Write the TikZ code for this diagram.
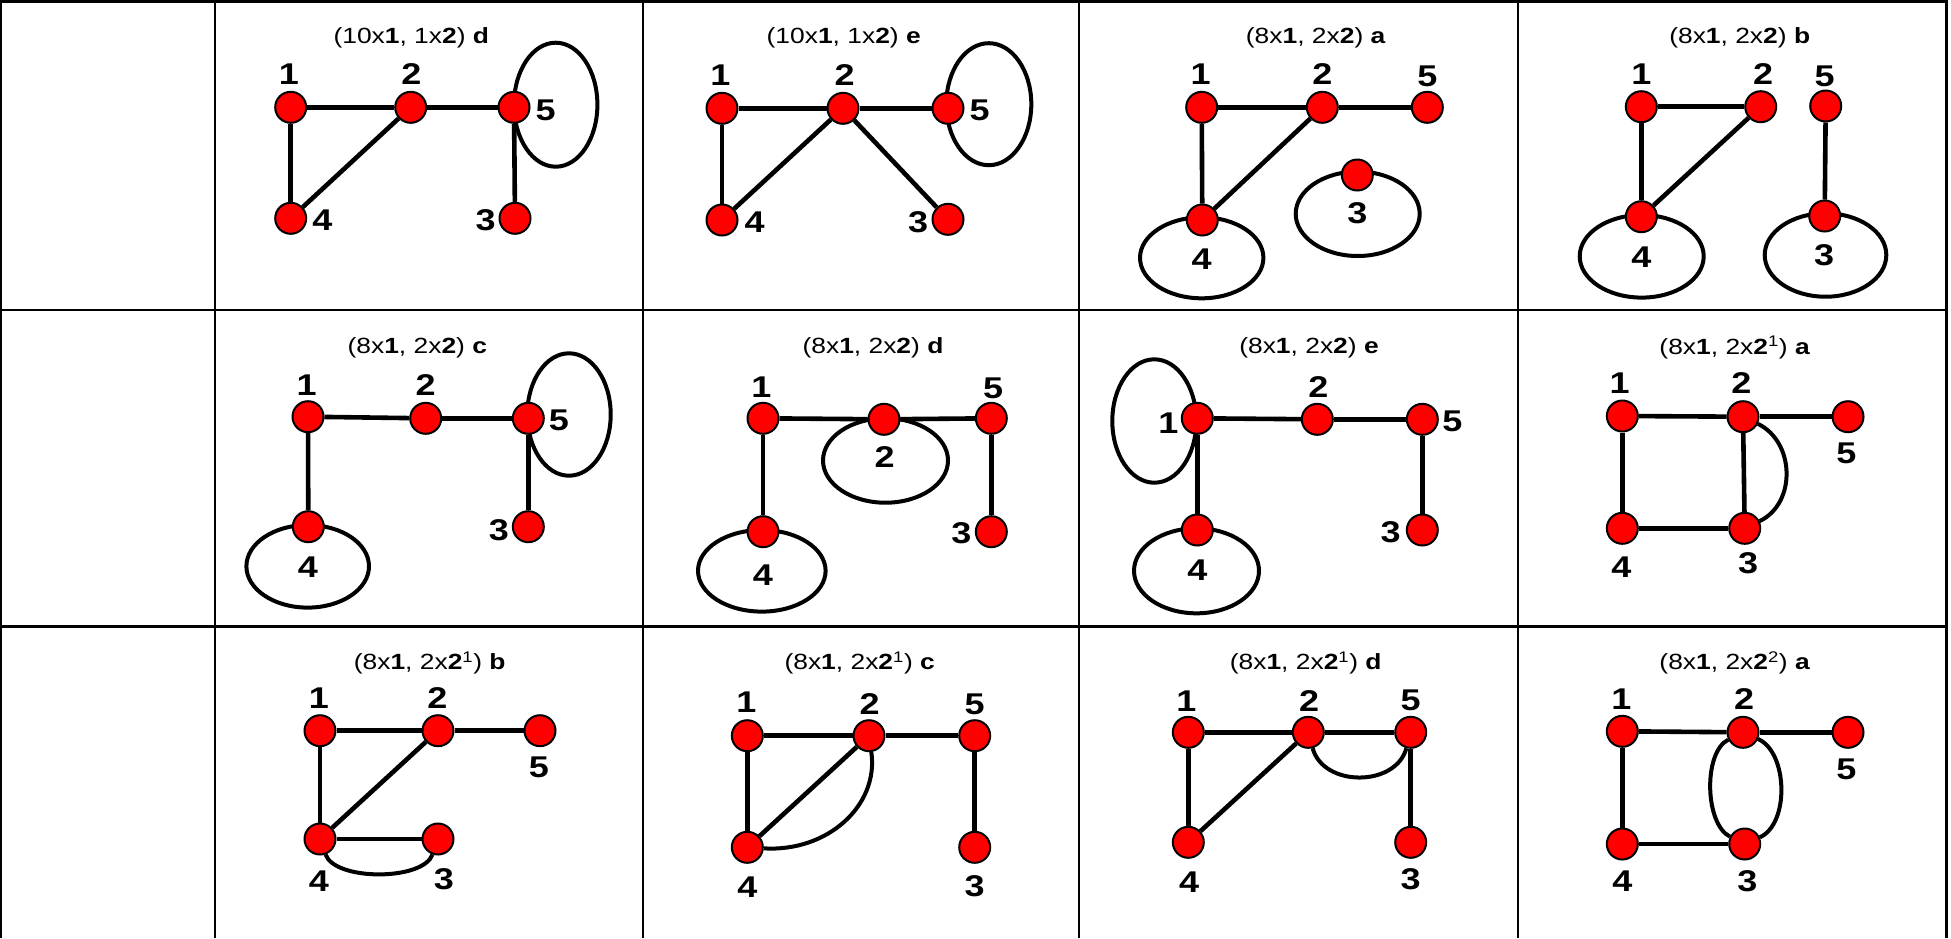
\documentclass[tikz,border=0pt]{standalone}
\usepackage{fontspec}
\setmainfont{Liberation Sans}
\usetikzlibrary{calc}
\pgfdeclarelayer{bg}
\pgfsetlayers{bg,main}
\newcommand{\hsq}[1]{\scalebox{1.2}[1]{#1}}
\tikzset{
  vtx/.style={circle, fill=red, draw=black, line width=2pt, minimum size=31pt, inner sep=0pt},
  lbl/.style={font=\fontsize{30}{30}\selectfont\bfseries, inner sep=0pt},
  ttl/.style={font=\fontsize{22}{22}\selectfont, inner sep=0pt},
  eline/.style={line width=4.6pt},
  loopst/.style={line width=4pt},
  gridln/.style={line width=2.5pt}
}
\begin{document}
\begin{tikzpicture}[x=1pt,y=-1pt]
\useasboundingbox (0,0) rectangle (1951,938);
% table grid
\foreach \yy in {1.5,310,626.5} \draw[gridln] (0,\yy) -- (1948,\yy);
\foreach \xx in {1.2,215,643,1079,1518,1946.5} \draw[gridln] (\xx,0) -- (\xx,938);

% ---------- cell 1 ----------
\node[ttl] (t1) at (411.3,38) {\hsq{(10x\textbf{1}, 1x\textbf{2}) \textbf{d}}};
\node[vtx] (c1v1) at (290.7,107.3) {};
\node[vtx] (c1v2) at (410.7,107.3) {};
\node[vtx] (c1v5) at (514,107.3) {};
\node[vtx] (c1v4) at (290.7,218.3) {};
\node[vtx] (c1v3) at (515,218.3) {};
\node[lbl] (c1l1) at (289,74) {\hsq{1}};
\node[lbl] (c1l2) at (411.3,74) {\hsq{2}};
\node[lbl] (c1l5) at (545.7,110) {\hsq{5}};
\node[lbl] (c1l4) at (322.3,220) {\hsq{4}};
\node[lbl] (c1l3) at (485.7,220) {\hsq{3}};
\begin{pgfonlayer}{bg}
\draw[eline] (c1v1) -- (c1v2);
\draw[eline] (c1v2) -- (c1v5);
\draw[eline] (c1v1) -- (c1v4);
\draw[eline] (c1v2) -- (c1v4);
\draw[eline] (c1v5) -- (c1v3);
\draw[loopst] ($(c1v5)+(41.7,-2.6)$) ellipse [x radius=41.7pt, y radius=62pt];
\end{pgfonlayer}

% ---------- cell 2 ----------
\node[ttl] (t2) at (843.7,38) {\hsq{(10x\textbf{1}, 1x\textbf{2}) \textbf{e}}};
\node[vtx] (c2v1) at (722,108.3) {};
\node[vtx] (c2v2) at (843,108.3) {};
\node[vtx] (c2v5) at (948,108.3) {};
\node[vtx] (c2v4) at (722,220) {};
\node[vtx] (c2v3) at (948,219.3) {};
\node[lbl] (c2l1) at (720.3,75) {\hsq{1}};
\node[lbl] (c2l2) at (844.7,75) {\hsq{2}};
\node[lbl] (c2l5) at (979.7,110) {\hsq{5}};
\node[lbl] (c2l4) at (754.7,221.7) {\hsq{4}};
\node[lbl] (c2l3) at (918,221.7) {\hsq{3}};
\begin{pgfonlayer}{bg}
\draw[eline] (c2v1) -- (c2v2);
\draw[eline] (c2v2) -- (c2v5);
\draw[eline] (c2v1) -- (c2v4);
\draw[eline] (c2v2) -- (c2v4);
\draw[eline] (c2v2) -- (c2v3);
\draw[loopst] ($(c2v5)+(40.8,-4.1)$) ellipse [x radius=42.5pt, y radius=61pt];
\end{pgfonlayer}

% ---------- cell 3 ----------
\node[ttl] (t3) at (1315.7,38) {\hsq{(8x\textbf{1}, 2x\textbf{2}) \textbf{a}}};
\node[vtx] (c3v1) at (1201.7,107.3) {};
\node[vtx] (c3v2) at (1322.3,107.3) {};
\node[vtx] (c3v5) at (1427.3,107.3) {};
\node[vtx] (c3v4) at (1202.3,220) {};
\node[vtx] (c3v3) at (1357.3,175) {};
\node[lbl] (c3l1) at (1200.7,74) {\hsq{1}};
\node[lbl] (c3l2) at (1322.3,74) {\hsq{2}};
\node[lbl] (c3l5) at (1427.3,76.7) {\hsq{5}};
\node[lbl] (c3l4) at (1201.7,259.3) {\hsq{4}};
\node[lbl] (c3l3) at (1357.3,213.3) {\hsq{3}};
\begin{pgfonlayer}{bg}
\draw[eline] (c3v1) -- (c3v2);
\draw[eline] (c3v2) -- (c3v5);
\draw[eline] (c3v1) -- (c3v4);
\draw[eline] (c3v2) -- (c3v4);
\draw[loopst] ($(c3v4)+(-0.6,37.8)$) ellipse [x radius=61.7pt, y radius=40.5pt];
\draw[loopst] ($(c3v3)+(0.4,38.8)$) ellipse [x radius=62pt, y radius=42.2pt];
\end{pgfonlayer}

% ---------- cell 4 ----------
\node[ttl] (t4) at (1739.7,38) {\hsq{(8x\textbf{1}, 2x\textbf{2}) \textbf{b}}};
\node[vtx] (c4v1) at (1641.3,106.7) {};
\node[vtx] (c4v2) at (1760.7,106.7) {};
\node[vtx] (c4v5) at (1825.7,106) {};
\node[vtx] (c4v4) at (1641.3,216.7) {};
\node[vtx] (c4v3) at (1824.7,216) {};
\node[lbl] (c4l1) at (1641.3,74) {\hsq{1}};
\node[lbl] (c4l2) at (1763,74) {\hsq{2}};
\node[lbl] (c4l5) at (1824.7,76) {\hsq{5}};
\node[lbl] (c4l4) at (1641.3,256.7) {\hsq{4}};
\node[lbl] (c4l3) at (1824,255) {\hsq{3}};
\begin{pgfonlayer}{bg}
\draw[eline] (c4v1) -- (c4v2);
\draw[eline] (c4v1) -- (c4v4);
\draw[eline] (c4v2) -- (c4v4);
\draw[eline] (c4v5) -- (c4v3);
\draw[loopst] ($(c4v4)+(0.4,39.6)$) ellipse [x radius=62pt, y radius=41.3pt];
\draw[loopst] ($(c4v3)+(0.8,39)$) ellipse [x radius=60.8pt, y radius=41.7pt];
\end{pgfonlayer}

% ---------- cell 5 ----------
\node[ttl] (t5) at (417.3,347.5) {\hsq{(8x\textbf{1}, 2x\textbf{2}) \textbf{c}}};
\node[vtx] (c5v1) at (308,416.7) {};
\node[vtx] (c5v2) at (425.7,418.3) {};
\node[vtx] (c5v5) at (528.3,418.3) {};
\node[vtx] (c5v4) at (308.3,526.7) {};
\node[vtx] (c5v3) at (528.3,526.7) {};
\node[lbl] (c5l1) at (306.7,385) {\hsq{1}};
\node[lbl] (c5l2) at (425.7,385) {\hsq{2}};
\node[lbl] (c5l5) at (559,420) {\hsq{5}};
\node[lbl] (c5l4) at (308,566.7) {\hsq{4}};
\node[lbl] (c5l3) at (499,530) {\hsq{3}};
\begin{pgfonlayer}{bg}
\draw[eline] (c5v1) -- (c5v2);
\draw[eline] (c5v2) -- (c5v5);
\draw[eline] (c5v1) -- (c5v4);
\draw[eline] (c5v5) -- (c5v3);
\draw[loopst] ($(c5v5)+(40.7,-3.8)$) ellipse [x radius=41.7pt, y radius=61.2pt];
\draw[loopst] ($(c5v4)+(-0.6,39.6)$) ellipse [x radius=61.3pt, y radius=41.3pt];
\end{pgfonlayer}

% ---------- cell 6 ----------
\node[ttl] (t6) at (873,347.5) {\hsq{(8x\textbf{1}, 2x\textbf{2}) \textbf{d}}};
\node[vtx] (c6v1) at (763,418.3) {};
\node[vtx] (c6v2) at (884,419.3) {};
\node[vtx] (c6v5) at (991.3,418.3) {};
\node[vtx] (c6v4) at (763,531.7) {};
\node[vtx] (c6v3) at (991.3,531.7) {};
\node[lbl] (c6l1) at (761.3,386.7) {\hsq{1}};
\node[lbl] (c6l2) at (884.7,456.7) {\hsq{2}};
\node[lbl] (c6l5) at (993,388.3) {\hsq{5}};
\node[lbl] (c6l4) at (763,575) {\hsq{4}};
\node[lbl] (c6l3) at (961.3,533.3) {\hsq{3}};
\begin{pgfonlayer}{bg}
\draw[eline] (c6v1) -- (c6v2);
\draw[eline] (c6v2) -- (c6v5);
\draw[eline] (c6v1) -- (c6v4);
\draw[eline] (c6v5) -- (c6v3);
\draw[loopst] ($(c6v2)+(1.5,41.2)$) ellipse [x radius=62.5pt, y radius=42.2pt];
\draw[loopst] ($(c6v4)+(-1.2,39.1)$) ellipse [x radius=63.8pt, y radius=40.8pt];
\end{pgfonlayer}

% ---------- cell 7 ----------
\node[ttl] (t7) at (1309,347.5) {\hsq{(8x\textbf{1}, 2x\textbf{2}) \textbf{e}}};
\node[vtx] (c7v1) at (1197.3,418.3) {};
\node[vtx] (c7v2) at (1317.3,419.3) {};
\node[vtx] (c7v5) at (1422.3,419.3) {};
\node[vtx] (c7v4) at (1197.3,530) {};
\node[vtx] (c7v3) at (1422.3,530) {};
\node[lbl] (c7l1) at (1168.3,423.3) {\hsq{1}};
\node[lbl] (c7l2) at (1318.3,386.7) {\hsq{2}};
\node[lbl] (c7l5) at (1452.3,421.7) {\hsq{5}};
\node[lbl] (c7l4) at (1197.3,570) {\hsq{4}};
\node[lbl] (c7l3) at (1390.7,531.7) {\hsq{3}};
\begin{pgfonlayer}{bg}
\draw[eline] (c7v1) -- (c7v2);
\draw[eline] (c7v2) -- (c7v5);
\draw[eline] (c7v1) -- (c7v4);
\draw[eline] (c7v5) -- (c7v3);
\draw[loopst] ($(c7v1)+(-43,2.7)$) ellipse [x radius=42pt, y radius=61.7pt];
\draw[loopst] ($(c7v4)+(-0.8,40.8)$) ellipse [x radius=62.5pt, y radius=42.5pt];
\end{pgfonlayer}

% ---------- cell 8 ----------
\node[ttl] (t8) at (1734.7,347.5) {\hsq{(8x\textbf{1}, 2x\textbf{2}\textsuperscript{1}) \textbf{a}}};
\node[vtx] (c8v1) at (1622.3,416) {};
\node[vtx] (c8v2) at (1743,416.7) {};
\node[vtx] (c8v5) at (1848,416.7) {};
\node[vtx] (c8v4) at (1622.3,528.3) {};
\node[vtx] (c8v3) at (1744.7,528.3) {};
\node[lbl] (c8l1) at (1619.7,383.3) {\hsq{1}};
\node[lbl] (c8l2) at (1741.3,383.3) {\hsq{2}};
\node[lbl] (c8l5) at (1846.3,453.3) {\hsq{5}};
\node[lbl] (c8l4) at (1621.3,566.7) {\hsq{4}};
\node[lbl] (c8l3) at (1748,563.3) {\hsq{3}};
\begin{pgfonlayer}{bg}
\draw[eline] (c8v1) -- (c8v2);
\draw[eline] (c8v2) -- (c8v5);
\draw[eline] (c8v1) -- (c8v4);
\draw[eline] (c8v4) -- (c8v3);
\draw[eline] (c8v2) -- (c8v3);
\draw[loopst] (c8v2) .. controls +(52,25) and +(52,-25) .. (c8v3);
\end{pgfonlayer}

% ---------- cell 9 ----------
\node[ttl] (t9) at (429.7,663) {\hsq{(8x\textbf{1}, 2x\textbf{2}\textsuperscript{1}) \textbf{b}}};
\node[vtx] (c9v1) at (320,730.7) {};
\node[vtx] (c9v2) at (438,730.7) {};
\node[vtx] (c9v5) at (540,730.7) {};
\node[vtx] (c9v4) at (320,839) {};
\node[vtx] (c9v3) at (438,839) {};
\node[lbl] (c9l1) at (319,698) {\hsq{1}};
\node[lbl] (c9l2) at (437.3,698) {\hsq{2}};
\node[lbl] (c9l5) at (539,767.3) {\hsq{5}};
\node[lbl] (c9l4) at (319,880.7) {\hsq{4}};
\node[lbl] (c9l3) at (444,879) {\hsq{3}};
\begin{pgfonlayer}{bg}
\draw[eline] (c9v1) -- (c9v2);
\draw[eline] (c9v2) -- (c9v5);
\draw[eline] (c9v1) -- (c9v4);
\draw[eline] (c9v2) -- (c9v4);
\draw[eline] (c9v4) -- (c9v3);
\draw[loopst] (c9v4) .. controls +(15,42) and +(-15,42) .. (c9v3);
\end{pgfonlayer}

% ---------- cell 10 ----------
\node[ttl] (t10) at (859.7,663) {\hsq{(8x\textbf{1}, 2x\textbf{2}\textsuperscript{1}) \textbf{c}}};
\node[vtx] (c10v1) at (747.3,735.7) {};
\node[vtx] (c10v2) at (869,735.7) {};
\node[vtx] (c10v5) at (974.7,735.7) {};
\node[vtx] (c10v4) at (747.3,847.3) {};
\node[vtx] (c10v3) at (974.7,847.3) {};
\node[lbl] (c10l1) at (746.3,702.3) {\hsq{1}};
\node[lbl] (c10l2) at (869.7,704) {\hsq{2}};
\node[lbl] (c10l5) at (974.7,704) {\hsq{5}};
\node[lbl] (c10l4) at (747.3,887.3) {\hsq{4}};
\node[lbl] (c10l3) at (974.7,885.7) {\hsq{3}};
\begin{pgfonlayer}{bg}
\draw[eline] (c10v1) -- (c10v2);
\draw[eline] (c10v2) -- (c10v5);
\draw[eline] (c10v1) -- (c10v4);
\draw[eline] (c10v2) -- (c10v4);
\draw[eline] (c10v5) -- (c10v3);
\draw[loopst] (c10v2) .. controls +(10,70) and +(80,5) .. (c10v4);
\end{pgfonlayer}

% ---------- cell 11 ----------
\node[ttl] (t11) at (1305.7,663) {\hsq{(8x\textbf{1}, 2x\textbf{2}\textsuperscript{1}) \textbf{d}}};
\node[vtx] (c11v1) at (1188.3,732.3) {};
\node[vtx] (c11v2) at (1308.3,732.3) {};
\node[vtx] (c11v5) at (1410.7,732.3) {};
\node[vtx] (c11v4) at (1188.3,842.3) {};
\node[vtx] (c11v3) at (1410.7,842.3) {};
\node[lbl] (c11l1) at (1186.3,700.7) {\hsq{1}};
\node[lbl] (c11l2) at (1309,700.7) {\hsq{2}};
\node[lbl] (c11l5) at (1410.7,700.7) {\hsq{5}};
\node[lbl] (c11l4) at (1189,882.3) {\hsq{4}};
\node[lbl] (c11l3) at (1410.7,879) {\hsq{3}};
\begin{pgfonlayer}{bg}
\draw[eline] (c11v1) -- (c11v2);
\draw[eline] (c11v2) -- (c11v5);
\draw[eline] (c11v1) -- (c11v4);
\draw[eline] (c11v2) -- (c11v4);
\draw[eline] (c11v5) -- (c11v3);
\draw[loopst] (c11v2) .. controls +(15,55) and +(-15,55) .. (c11v5);
\end{pgfonlayer}

% ---------- cell 12 ----------
\node[ttl] (t12) at (1734.7,663) {\hsq{(8x\textbf{1}, 2x\textbf{2}\textsuperscript{2}) \textbf{a}}};
\node[vtx] (c12v1) at (1622.3,731.3) {};
\node[vtx] (c12v2) at (1743,732.3) {};
\node[vtx] (c12v5) at (1848,732.3) {};
\node[vtx] (c12v4) at (1622.3,844) {};
\node[vtx] (c12v3) at (1744.7,844) {};
\node[lbl] (c12l1) at (1621.3,699) {\hsq{1}};
\node[lbl] (c12l2) at (1744,699) {\hsq{2}};
\node[lbl] (c12l5) at (1846.3,769) {\hsq{5}};
\node[lbl] (c12l4) at (1622.3,880.7) {\hsq{4}};
\node[lbl] (c12l3) at (1747.3,880.7) {\hsq{3}};
\begin{pgfonlayer}{bg}
\draw[eline] (c12v1) -- (c12v2);
\draw[eline] (c12v2) -- (c12v5);
\draw[eline] (c12v1) -- (c12v4);
\draw[eline] (c12v4) -- (c12v3);
\draw[loopst] (c12v2) .. controls +(-40,20) and +(-40,-20) .. (c12v3);
\draw[loopst] (c12v2) .. controls +(45,20) and +(45,-20) .. (c12v3);
\end{pgfonlayer}
\end{tikzpicture}
\end{document}
